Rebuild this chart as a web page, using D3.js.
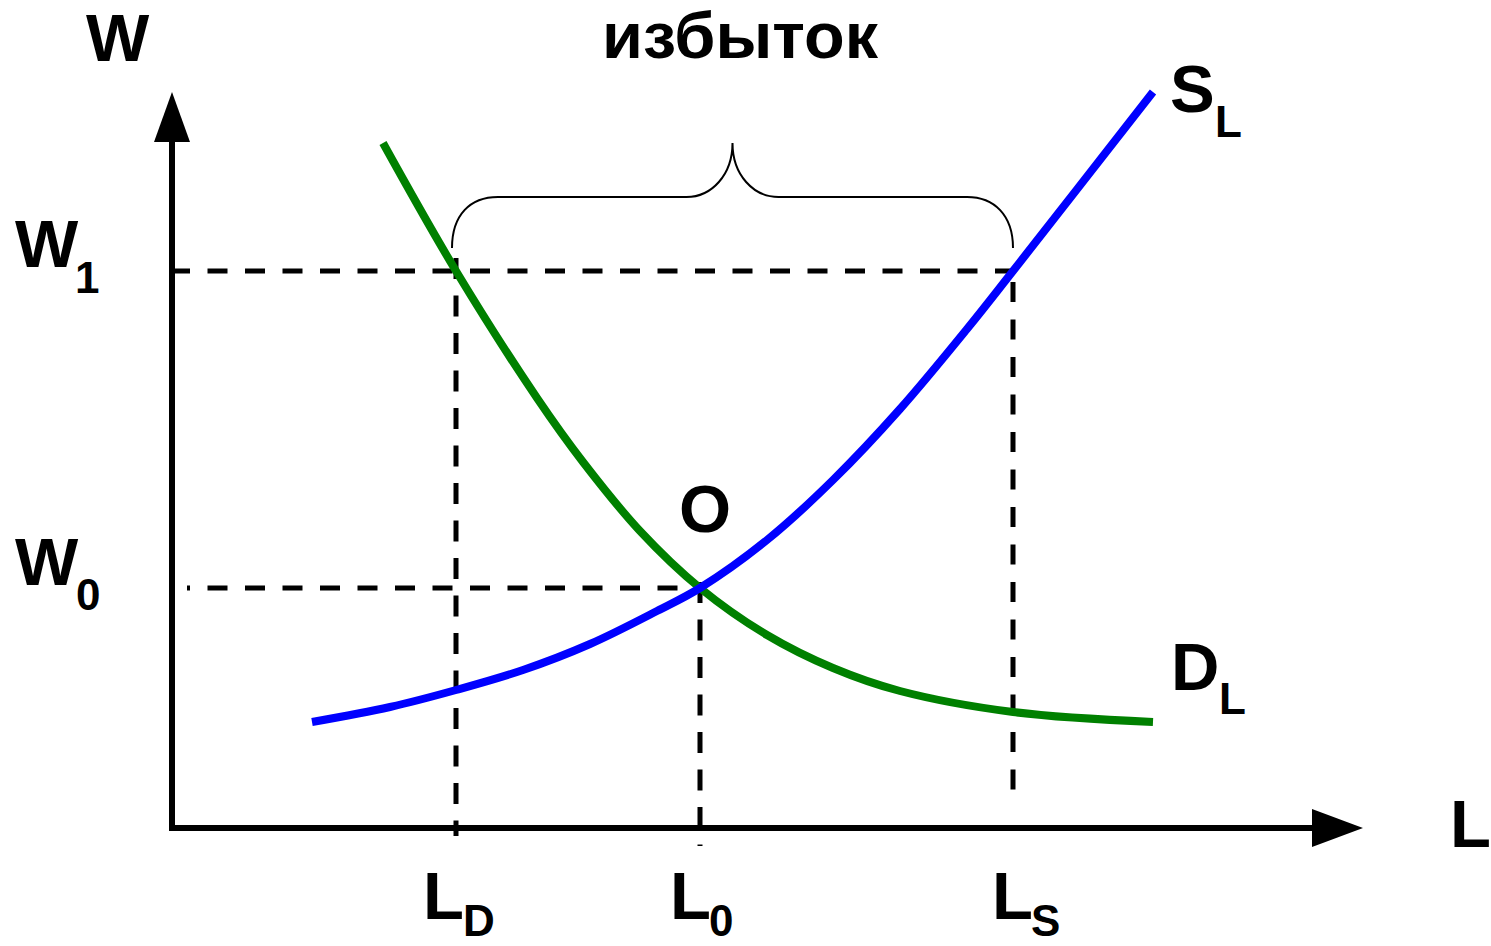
<!DOCTYPE html>
<html>
<head>
<meta charset="utf-8">
<script src="https://cdn.jsdelivr.net/npm/d3@7"></script>
<style>
  body { margin: 0; background: #fff; }
  text { font-family: "Liberation Sans", Arial, sans-serif; font-weight: bold; fill: #000; }
</style>
</head>
<body>
<div id="container"></div>
<script>
// labour market: demand D_L and supply S_L (units: L, W)
const demandL = [2.11, 2.84, 3.65, 4.11, 4.68, 5.28, 5.95, 6.61, 7.28, 8.41, 9.81];
const demandW = [6.85, 5.57, 4.30, 3.66, 2.97, 2.40, 1.93, 1.60, 1.37, 1.16, 1.06];
const supplyL = [1.40, 2.18, 2.84, 3.51, 4.18, 4.85, 5.28, 5.95, 6.61, 7.28, 7.95, 8.41, 9.81];
const supplyW = [1.06, 1.21, 1.38, 1.58, 1.84, 2.17, 2.40, 2.88, 3.48, 4.19, 4.99, 5.57, 7.36];

// levels
const W0 = 2.40, W1 = 5.57;
const L0 = 5.28, LD = 2.84, LS = 8.41;

const width = 1491, height = 946;

const x = d3.scaleLinear().domain([0, 12]).range([172, 1372]);
const y = d3.scaleLinear().domain([0, 7.4]).range([828, 88]);

const svg = d3.select("#container").append("svg")
  .attr("width", width)
  .attr("height", height);

// dashed guide lines
function dashed(x1, y1, x2, y2, dash, offset) {
  svg.append("line")
    .attr("x1", x1).attr("y1", y1)
    .attr("x2", x2).attr("y2", y2)
    .attr("stroke", "#000")
    .attr("stroke-width", 5)
    .attr("stroke-dasharray", dash)
    .attr("stroke-dashoffset", offset || 0);
}

dashed(x(0) - 2, y(W1), x(LS), y(W1), "20,17.5");
dashed(x(0.15), y(W0), x(L0), y(W0), "20,17.5", 17);
dashed(x(LD), y(W1) - 13, x(LD), y(-0.08), "21,16.5");
dashed(x(LS), y(W1) + 11, x(LS), y(0.23), "20,17.5");
dashed(x(L0), y(W0) - 6, x(L0), y(-0.18), "21,16.5");

// curves
const line = d3.line()
  .x(d => x(d[0]))
  .y(d => y(d[1]))
  .curve(d3.curveCatmullRom);

svg.append("path")
  .datum(demandL.map((v, i) => [v, demandW[i]]))
  .attr("d", line)
  .attr("fill", "none")
  .attr("stroke", "#008000")
  .attr("stroke-width", 8);

svg.append("path")
  .datum(supplyL.map((v, i) => [v, supplyW[i]]))
  .attr("d", line)
  .attr("fill", "none")
  .attr("stroke", "#0000ff")
  .attr("stroke-width", 8);

// axes with arrows
svg.append("polyline")
  .attr("points", `${x(0)},${y(6.9)} ${x(0)},${y(0)} ${x(11.45)},${y(0)}`)
  .attr("fill", "none")
  .attr("stroke", "#000")
  .attr("stroke-width", 6);

svg.append("polygon")
  .attr("points", `${x(0)},${y(7.36)} ${x(0) - 18},${y(6.86)} ${x(0) + 18},${y(6.86)}`)
  .attr("fill", "#000");

svg.append("polygon")
  .attr("points", `${x(11.91)},${y(0)} ${x(11.40)},${y(0) - 19} ${x(11.40)},${y(0) + 19}`)
  .attr("fill", "#000");

// brace over the surplus
const bl = x(LD) - 4, br = x(LS), bm = (bl + br) / 2;
const bBottom = y(W1) - 23, bMid = bBottom - 51, bTop = bBottom - 105;
svg.append("path")
  .attr("d", `M${bl},${bBottom} C${bl},${bMid + 18} ${bl + 18},${bMid} ${bl + 46},${bMid}
    L${bm - 46},${bMid} C${bm - 21},${bMid} ${bm},${bMid - 22} ${bm},${bTop}
    C${bm},${bMid - 22} ${bm + 21},${bMid} ${bm + 46},${bMid}
    L${br - 46},${bMid} C${br - 19},${bMid} ${br},${bMid + 18} ${br},${bBottom}`)
  .attr("fill", "none")
  .attr("stroke", "#000")
  .attr("stroke-width", 2);

// labels
function label(tx, ty, main, sub, sx, sy) {
  svg.append("text").attr("x", tx).attr("y", ty)
    .attr("font-size", 67).text(main);
  if (sub) {
    svg.append("text").attr("x", sx).attr("y", sy)
      .attr("font-size", 44).text(sub);
  }
}

label(86, 61, "W");
label(15, 267, "W", "1", 75, 293);
label(15, 585, "W", "0", 76, 610);
label(679, 532, "O");
label(1170, 112, "S", "L", 1215, 137);
label(1171, 690, "D", "L", 1219, 714);
label(423, 919, "L", "D", 463, 936);
label(670, 919, "L", "0", 709, 936);
label(992, 919, "L", "S", 1031, 936);

svg.append("text")
  .attr("x", 1491).attr("y", 847)
  .attr("font-size", 67)
  .attr("text-anchor", "end")
  .text("L");

svg.append("text")
  .attr("x", 602).attr("y", 58)
  .attr("font-size", 65)
  .attr("textLength", 276)
  .attr("lengthAdjust", "spacingAndGlyphs")
  .text("избыток");
</script>
</body>
</html>
